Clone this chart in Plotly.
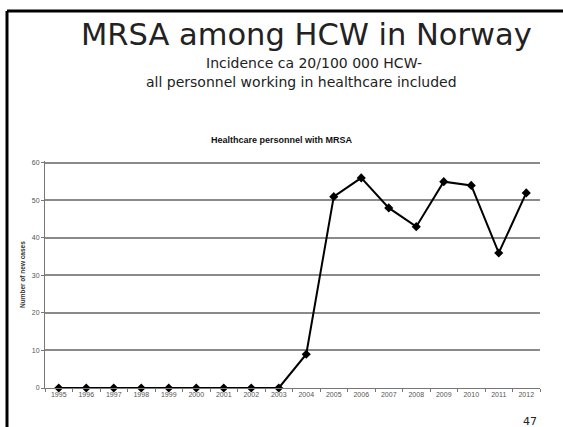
import plotly.graph_objects as go

years = [str(y) for y in range(1995, 2013)]
cases = [0, 0, 0, 0, 0, 0, 0, 0, 0, 9, 51, 56, 48, 43, 55, 54, 36, 52]
y_ticks = [0, 10, 20, 30, 40, 50, 60]

W, H = 563, 427
L, R, T, B = 45, 540, 161, 388


def px(x):
    return (x - L) / (R - L)


def py(y):
    return (B - y) / (B - T)


fig = go.Figure()
fig.add_trace(go.Scatter(
    x=years, y=cases, mode="lines+markers",
    line=dict(color="black", width=2),
    marker=dict(symbol="diamond", size=7, color="black"),
    showlegend=False, cliponaxis=False,
))

fig.update_layout(
    width=W, height=H,
    margin=dict(l=L, r=W - R, t=T, b=H - B),
    paper_bgcolor="white", plot_bgcolor="white",
    font=dict(family="Liberation Sans, Arial", color="#555"),
    xaxis=dict(
        type="category", range=[-0.5, 17.5],
        showgrid=False, showline=True, linecolor="#777", linewidth=1,
        ticks="outside", ticklen=3, tickcolor="#777", tickson="boundaries",
        tickfont=dict(size=7, color="#555"),
    ),
    yaxis=dict(
        range=[0, 60.5], tickvals=y_ticks,
        showgrid=True, gridcolor="#8a8a8a", gridwidth=1.5,
        showline=True, linecolor="#777", linewidth=1,
        ticks="outside", ticklen=3, tickcolor="#777",
        tickfont=dict(size=7, color="#555"), zeroline=False,
    ),
    shapes=[
        dict(type="line", xref="paper", yref="paper", x0=px(7), x1=px(563), y0=py(11), y1=py(11),
             line=dict(color="black", width=3)),
        dict(type="line", xref="paper", yref="paper", x0=px(7), x1=px(7), y0=py(11), y1=py(427),
             line=dict(color="black", width=3)),
    ],
    annotations=[
        dict(text="MRSA among HCW in Norway", xref="paper", yref="paper", x=px(306), y=py(35),
             showarrow=False, font=dict(family="DejaVu Sans", size=30.5, color="#222"),
             xanchor="center", yanchor="middle"),
        dict(text="Incidence ca 20/100 000 HCW-", xref="paper", yref="paper", x=px(314), y=py(63),
             showarrow=False, font=dict(family="DejaVu Sans", size=14, color="#222"),
             xanchor="center", yanchor="middle"),
        dict(text="all personnel working in healthcare included", xref="paper", yref="paper", x=px(301), y=py(82),
             showarrow=False, font=dict(family="DejaVu Sans", size=14, color="#222"),
             xanchor="center", yanchor="middle"),
        dict(text="<b>Healthcare personnel with MRSA</b>", xref="paper", yref="paper", x=px(282), y=py(140),
             showarrow=False, font=dict(family="Liberation Sans, Arial", size=9, color="#111"),
             xanchor="center", yanchor="middle"),
        dict(text="<b>Number of new cases</b>", xref="paper", yref="paper", x=px(22), y=py(275),
             showarrow=False, textangle=-90, font=dict(family="Liberation Sans, Arial", size=6.5, color="#333"),
             xanchor="center", yanchor="middle"),
        dict(text="47", xref="paper", yref="paper", x=px(530), y=py(421),
             showarrow=False, font=dict(family="DejaVu Sans", size=11, color="#222"),
             xanchor="center", yanchor="middle"),
    ],
)

fig.write_html("out.html")
